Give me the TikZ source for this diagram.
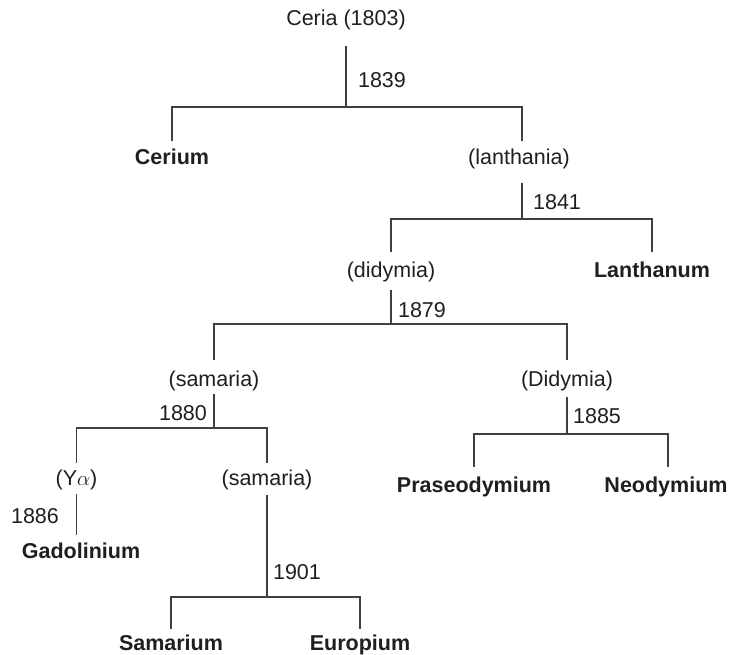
\documentclass[tikz,border=0pt]{standalone}
\usepackage{fontspec}
\setmainfont{Liberation Sans}
\begin{document}
\begin{tikzpicture}[x=1pt,y=-1pt,
  lbl/.style={anchor=base,inner sep=0pt,text height=15.5pt,text depth=4.5pt,text=black!88,font=\fontsize{21.5}{26}\selectfont},
  elem/.style={lbl,font=\fontsize{21.5}{26}\selectfont\bfseries},
  yr/.style={lbl},
  tree/.style={draw=black!75,line width=1.1pt}]
\useasboundingbox (0,0) rectangle (733,655);
% text nodes
\node[lbl]  (ceria)    at (346,26)  {Ceria (1803)};
\node[elem] (cerium)   at (172,165) {Cerium};
\node[lbl]  (lanth)    at (519,165) {(lanthania)};
\node[lbl]  (didy)     at (391,277) {(didymia)};
\node[elem] (lanthan)  at (652,277) {Lanthanum};
\node[lbl]  (sam)      at (214,386) {(samaria)};
\node[lbl]  (Didy)     at (567,386) {(Didymia)};
\node[lbl]  (ya)       at (76.5,485) {(Y$\alpha$)};
\node[lbl]  (sam2)     at (267,485) {(samaria)};
\node[elem] (prase)    at (474,492) {Praseodymium};
\node[elem] (neo)      at (666,492) {Neodymium};
\node[elem] (gad)      at (81,558)  {Gadolinium};
\node[elem] (samarium) at (171,650) {Samarium};
\node[elem] (europium) at (360,650) {Europium};
% years
\node[yr] (y1839) at (382,88)  {1839};
\node[yr] (y1841) at (557,210) {1841};
\node[yr] (y1879) at (422,317) {1879};
\node[yr] (y1880) at (183,420) {1880};
\node[yr] (y1885) at (597,423) {1885};
\node[yr] (y1886) at (35,523)  {1886};
\node[yr] (y1901) at (297,579) {1901};
% junctions
\coordinate (j1) at (346,107);
\coordinate (j2) at (522,219);
\coordinate (j3) at (391,324);
\coordinate (j4) at (214,428);
\coordinate (j5) at (567,434);
\coordinate (j6) at (267,597);
% tree
\draw[tree] ([yshift=-15.5pt]ceria.south) -- (j1);
\draw[tree] ([yshift=8.5pt]cerium.north) |- (j1) -| ([xshift=3pt,yshift=8.5pt]lanth.north);
\draw[tree] ([xshift=3pt,yshift=-13.5pt]lanth.south) -- (j2);
\draw[tree] ([yshift=9.5pt]didy.north) |- (j2) -| ([yshift=9.5pt]lanthan.north);
\draw[tree] ([yshift=-8.5pt]didy.south) -- (j3);
\draw[tree] ([yshift=10.5pt]sam.north) |- (j3) -| ([yshift=10.5pt]Didy.north);
\draw[tree] ([yshift=-3.5pt]sam.south) -- (j4);
\draw[tree] ([yshift=6.5pt]ya.north) |- (j4) -| ([yshift=6.5pt]sam2.north);
\draw[tree] ([yshift=-6.5pt]Didy.south) -- (j5);
\draw[tree] ([yshift=9.5pt]prase.north) |- (j5) -| ([xshift=2pt,yshift=9.5pt]neo.north);
\draw[tree] ([yshift=-4.5pt]ya.south) -- ([xshift=-4.5pt,yshift=7.5pt]gad.north);
\draw[tree] ([yshift=-5.5pt]sam2.south) -- (j6);
\draw[tree] ([yshift=5.5pt]samarium.north) |- (j6) -| ([yshift=5.5pt]europium.north);
\end{tikzpicture}
\end{document}
